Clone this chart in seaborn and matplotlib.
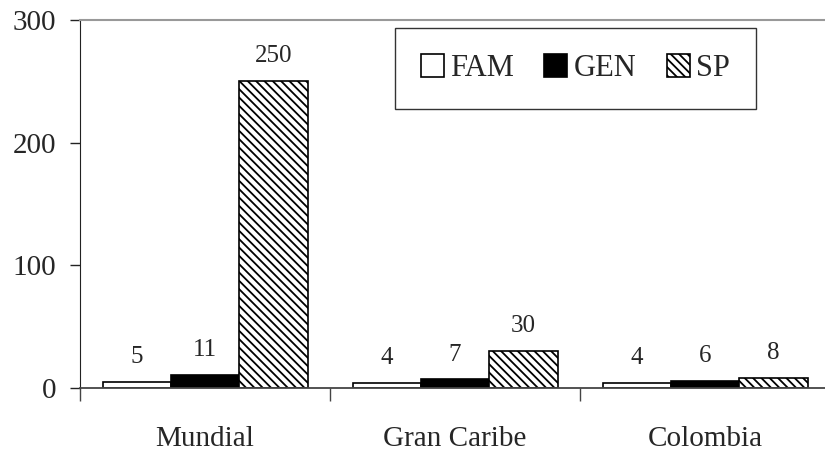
import pandas as pd
import matplotlib
matplotlib.use("Agg")
import matplotlib.pyplot as plt
import seaborn as sns

# datos
regiones = ["Mundial", "Gran Caribe", "Colombia"]
fam = [5, 4, 4]
gen = [11, 7, 6]
sp = [250, 30, 8]
niveles = ["FAM", "GEN", "SP"]

df = pd.DataFrame({
    "Region": regiones * 3,
    "Nivel": ["FAM"] * 3 + ["GEN"] * 3 + ["SP"] * 3,
    "Valor": fam + gen + sp,
})

sns.set_style("white")
plt.rcParams["font.family"] = ["Liberation Serif", "DejaVu Serif"]
plt.rcParams["hatch.linewidth"] = 1.3

fig = plt.figure(figsize=(8.25, 4.57), dpi=100)
ax = fig.add_axes([80 / 825, 1 - 388 / 457, 750 / 825, 368 / 457])

colores = {"FAM": "white", "GEN": "black", "SP": "white"}
sns.barplot(data=df, x="Region", y="Valor", hue="Nivel", hue_order=niveles,
            order=regiones, palette=colores, saturation=1, width=0.82,
            edgecolor="black", linewidth=1.2, legend=False, ax=ax)

# rayado para SP
for p in ax.containers[2]:
    p.set_hatch("\\\\\\\\")

for c in ax.containers:
    ax.bar_label(c, padding=10, fontsize=18)

ax.set_ylim(0, 300)
ax.set_xlim(-0.5, 2.5)
ax.set_yticks([0, 100, 200, 300])
ax.tick_params(axis="y", labelsize=21, length=7, width=1, direction="out", pad=10, color="#222222", left=True)
ax.set_xticks([0, 1, 2])
ax.set_xticks([-0.5, 0.5, 1.5], minor=True)
ax.tick_params(axis="x", which="major", length=0, labelsize=21, pad=27)
ax.tick_params(axis="x", which="minor", length=9, width=1, direction="out", color="#444444", bottom=True)
ax.set_xlabel("")
ax.set_ylabel("")

ax.spines["right"].set_visible(False)
ax.spines["top"].set_color("#999999")
ax.spines["top"].set_linewidth(1.5)
ax.spines["left"].set_color("#222222")
ax.spines["bottom"].set_color("#444444")
ax.spines["bottom"].set_linewidth(1.3)

leg = ax.legend(ax.containers, niveles, loc="upper left", bbox_to_anchor=(0.42, 0.978),
                borderaxespad=0, ncol=3, fontsize=22, frameon=True, fancybox=False,
                edgecolor="black", handlelength=0.75, handleheight=0.75,
                handletextpad=0.2, columnspacing=1.0, borderpad=0.85)
leg.get_frame().set_linewidth(1.0)

fig.savefig("out.png", dpi=100)
